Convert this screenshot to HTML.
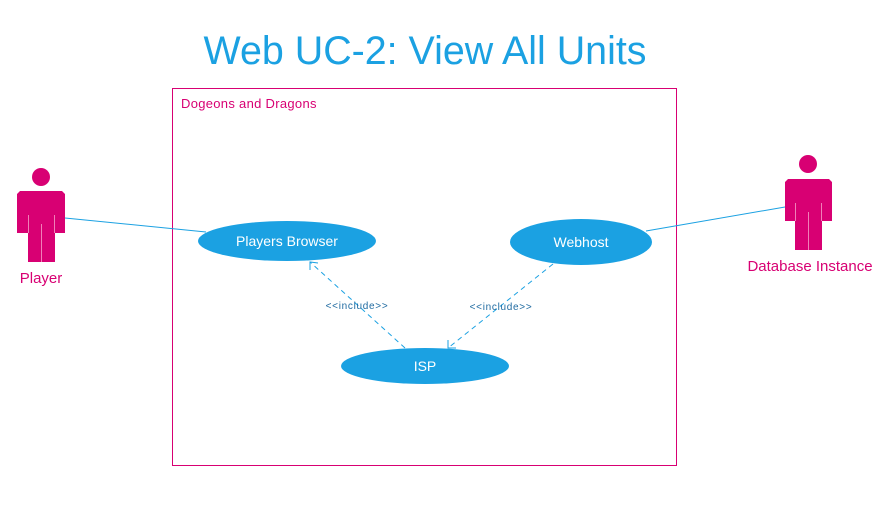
<!DOCTYPE html>
<html><head><style>body{margin:0;background:#fff}</style></head><body>
<svg width="887" height="508" xmlns="http://www.w3.org/2000/svg" font-family="'Segoe UI','Liberation Sans',sans-serif">
<text x="425" y="64" text-anchor="middle" font-size="39.4" fill="#1ba1e2">Web UC-2: View All Units</text>
<rect x="172.5" y="88.5" width="504" height="377" fill="none" stroke="#d80073" stroke-width="1"/>
<text x="181" y="108" font-size="13" fill="#d80073" letter-spacing="0.3">Dogeons and Dragons</text>
<line x1="65" y1="218" x2="206" y2="232" stroke="#1ba1e2" stroke-width="1"/>
<line x1="646" y1="231" x2="785" y2="207" stroke="#1ba1e2" stroke-width="1"/>
<g stroke="#1ba1e2" stroke-width="1" stroke-dasharray="5,4" fill="none">
<line x1="405" y1="348" x2="310" y2="262"/>
<line x1="553" y1="264" x2="448" y2="348"/>
</g>
<g stroke="#1ba1e2" stroke-width="1" fill="none">
<polyline points="310,270 310,262 318,263"/>
<polyline points="448,340 448,348 456,348"/>
</g>
<text x="357" y="309" font-size="10" fill="#1f6aa0" text-anchor="middle" letter-spacing="0.7">&lt;&lt;include&gt;&gt;</text>
<text x="501" y="310" font-size="10" fill="#1f6aa0" text-anchor="middle" letter-spacing="0.7">&lt;&lt;include&gt;&gt;</text>
<ellipse cx="287" cy="241" rx="89" ry="20" fill="#1ba1e2"/>
<text x="287" y="246" font-size="14" fill="#fff" text-anchor="middle">Players Browser</text>
<ellipse cx="581" cy="242" rx="71" ry="23" fill="#1ba1e2"/>
<text x="581" y="247" font-size="14" fill="#fff" text-anchor="middle">Webhost</text>
<ellipse cx="425" cy="366" rx="84" ry="18" fill="#1ba1e2"/>
<text x="425" y="371" font-size="14" fill="#fff" text-anchor="middle">ISP</text>
<g fill="#d80073">
<circle cx="41" cy="177" r="9"/>
<polygon points="20,191 62,191 65,194 65,233 55,233 55,262 28,262 28,233 17,233 17,194"/>
<circle cx="808" cy="164" r="9"/>
<polygon points="788,179 829,179 832,182 832,221 822,221 822,250 795,250 795,221 785,221 785,182"/>
</g>
<g stroke="#f080b8" stroke-width="1">
<line x1="41.5" y1="224" x2="41.5" y2="262"/><line x1="28.5" y1="215" x2="28.5" y2="233"/><line x1="54.5" y1="215" x2="54.5" y2="233"/>
<line x1="808.5" y1="212" x2="808.5" y2="250"/><line x1="795.5" y1="203" x2="795.5" y2="221"/><line x1="821.5" y1="203" x2="821.5" y2="221"/>
</g>
<text x="41" y="283" font-size="15" fill="#d80073" text-anchor="middle">Player</text>
<text x="810" y="271" font-size="15" fill="#d80073" text-anchor="middle">Database Instance</text>
</svg>
</body></html>
